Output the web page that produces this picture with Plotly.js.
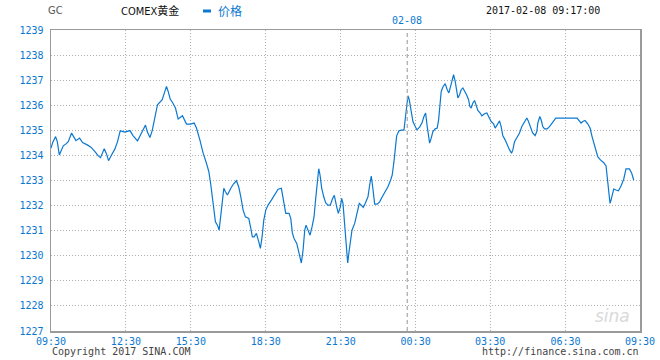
<!DOCTYPE html>
<html>
<head>
<meta charset="utf-8">
<script src="https://cdn.plot.ly/plotly-3.0.1.min.js"></script>
<style>html,body{margin:0;padding:0;background:#fff;}#chart{width:660px;height:360px;}</style>
</head>
<body>
<div id="chart"></div>
<script>
// minute slot index along the session (chart units)
const slot = [
0,2,4.6,6.3,8.3,9.6,12.3,15,17.3,20.6,22.6,25,28.6,31.6,36.3,40,44,47.3,49.6,53.3,55.6,57.6,60.6,64,66.6,69.3,74,79,82.3,86.6,90.6,94.6,96.3,99,101.3,104,106.6,111.3,113.3,115.6,117.3,119.3,121.6,
124.6,127.3,131.6,135.6,139.6,143.3,145.6,149,152.3,155.6,158,160,162.3,164.6,166.6,168.3,170,171.3,173,174.6,176.6,180,182.6,185.6,188,190,192.3,194.6,198,200,201.6,203.3,205.6,208,209.6,211.3,213,215,217.3,220.6,224,227.3,230.6,233,235,238.3,240,241.6,
243.3,246,248,249.6,250.6,252.3,254,255.3,256.6,259.3,261.3,263.3,265,266.6,268,269.3,271,273,275,277.3,279.6,281.6,283.6,286,287.6,289.6,291,292.3,293.3,295,296.3,297,298.3,300,301.3,304,306.6,308.6,310.6,312.6,314.6,317.3,319,320.6,322,324,326.6,329,331.6,334.6,337.3,340,341.6,343.3,344.6,346,348.3,350.6,353.3,355,356.3,357.3,358.6,360,361.6,
362.3,364.6,366.3,369,371.3,373.3,375,376.6,378,379,380.6,382.3,384.6,386.6,388,389.3,390.6,392.3,394.6,396.6,398.3,400,401.6,403,404.6,406,407.3,409,410.6,412.3,414,416,418,419.3,420.6,422.3,424,425.6,427.3,429.6,431.3,434,436.3,438.3,440.6,443,444.6,446.6,449,450.6,452.3,454.6,456.6,459,461,462.3,464,466.6,469,471.3,474,476.3,478,480,482,
484.6,486.3,487.3,489.3,490.6,492.3,494,496.6,499,502.3,505.3,526.6,529,530.6,532.3,534.6,537.3,539.6,541.6,544,545.6,547.3,550,553.3,555.6,556.6,558,559.6,560.6,561.6,563.3,565.6,568,570.6,573.3,575.6,579,581.3,583.3
];
const price = [
1234.29,1234.55,1234.75,1234.55,1234.02,1234.15,1234.38,1234.46,1234.55,1234.89,1234.75,1234.59,1234.69,1234.51,1234.42,1234.33,1234.15,1233.98,1233.91,1234.27,1234.06,1233.79,1234.02,1234.26,1234.55,1234.98,1234.93,1234.99,1234.78,1234.58,1234.89,1235.21,1234.95,1234.71,1234.99,1235.55,1236.02,1236.22,1236.46,1236.75,1236.55,1236.25,1236.11,
1235.89,1235.45,1235.58,1235.25,1235.25,1235.29,1235.09,1234.62,1234.09,1233.69,1233.35,1232.82,1231.95,1231.35,1231.22,1231.02,1231.62,1232.22,1232.69,1232.55,1232.42,1232.69,1232.86,1232.99,1232.73,1232.35,1231.82,1231.55,1231.49,1231.09,1230.75,1230.75,1230.89,1230.55,1230.29,1230.75,1231.42,1231.82,1232.02,1232.22,1232.42,1232.65,1232.69,1232.09,1231.69,1231.69,1231.49,1230.91,
1230.69,1230.49,1230.15,1229.85,1229.71,1230.22,1231.02,1231.22,1231.09,1230.82,1231.15,1231.55,1232.29,1232.82,1233.47,1233.22,1232.69,1232.35,1232.11,1232.02,1232.02,1232.25,1232.41,1231.95,1231.69,1231.95,1232.29,1232.09,1231.55,1230.49,1229.95,1229.71,1230.15,1230.55,1231.02,1231.29,1231.69,1232.09,1232.02,1231.93,1232.09,1232.35,1232.82,1233.18,1232.75,1232.06,1232.06,1232.15,1232.35,1232.55,1232.75,1233.02,1233.22,1233.75,1234.22,1234.78,1234.98,1235.01,1235.01,1235.55,1235.89,1236.38,1236.22,1235.89,1235.45,
1235.35,1235.15,1235.02,1235.13,1235.29,1235.55,1235.69,1235.15,1234.82,1234.49,1234.69,1234.95,1235.06,1235.09,1235.42,1236.02,1236.55,1236.73,1236.86,1236.62,1236.49,1236.75,1236.99,1237.22,1236.95,1236.62,1236.29,1236.42,1236.62,1236.69,1236.58,1236.42,1236.22,1235.95,1235.89,1236.09,1236.19,1236.02,1235.79,1235.69,1235.58,1235.66,1235.69,1235.53,1235.35,1235.26,1235.09,1235.22,1235.38,1235.15,1234.78,1234.62,1234.42,1234.22,1234.09,1234.22,1234.55,1234.75,1234.89,1235.15,1235.35,1235.49,1235.35,1235.09,1234.91,
1234.79,1234.95,1235.29,1235.55,1235.42,1235.15,1235.06,1235.06,1235.15,1235.33,1235.49,1235.49,1235.35,1235.29,1235.35,1235.39,1235.26,1235.09,1234.75,1234.42,1234.15,1233.95,1233.82,1233.71,1233.58,1233.22,1232.62,1232.09,1232.22,1232.35,1232.66,1232.62,1232.59,1232.78,1233.05,1233.46,1233.46,1233.29,1233.02
];
const xTickSlots = [0,75,140,215,290,365,439.6,515,589.6];
const xTickLabels = ['09:30','12:30','15:30','18:30','21:30','00:30','03:30','06:30','09:30'];
const yTicks = [1227,1228,1229,1230,1231,1232,1233,1234,1235,1236,1237,1238,1239];
const dayBreakSlot = 356.6;
const dayBreakLabel = '02-08';
const symbol = 'GC';
const instrument = 'COMEX黄金';
const seriesName = '价格';
const stamp = '2017-02-08 09:17:00';

const blue = '#0b78d0';
const mono = 'DejaVu Sans Mono, Liberation Mono, monospace';

const trace = {
  x: slot, y: price, type: 'scatter', mode: 'lines', name: seriesName,
  line: {color: blue, width: 1.2}, hoverinfo: 'skip', showlegend: false
};

const X = px => (px - 51) / 589;
const Y = py => (331 - py) / 301;

const layout = {
  width: 660, height: 360,
  margin: {l: 51, r: 20, t: 30, b: 29, pad: 0},
  paper_bgcolor: '#fff', plot_bgcolor: '#fff',
  showlegend: false,
  xaxis: {
    range: [0, 589.6], tickmode: 'array', tickvals: xTickSlots, ticktext: xTickLabels,
    showgrid: true, gridcolor: '#b0b0b0', griddash: '1px,2px', gridwidth: 1,
    showline: true, linecolor: '#9a9a9a', linewidth: 1.5, mirror: true,
    zeroline: false, ticks: '', tickfont: {family: mono, size: 10, color: blue},
    fixedrange: true
  },
  yaxis: {
    range: [1227, 1239], tickmode: 'array', tickvals: yTicks,
    showgrid: true, gridcolor: '#b0b0b0', griddash: '1px,2px', gridwidth: 1,
    showline: true, linecolor: '#9a9a9a', linewidth: 1.5, mirror: true,
    zeroline: false, ticks: 'outside', ticklen: 4, tickcolor: 'rgba(0,0,0,0)',
    tickfont: {family: mono, size: 10, color: blue},
    fixedrange: true
  },
  shapes: [
    {type: 'line', xref: 'x', yref: 'paper', x0: dayBreakSlot, x1: dayBreakSlot, y0: 0, y1: 1,
     line: {color: '#a8a8a8', width: 1.2, dash: '4px,3px'}},
    {type: 'line', xref: 'paper', yref: 'paper', x0: X(203), x1: X(211), y0: Y(11), y1: Y(11),
     line: {color: blue, width: 3}}
  ],
  annotations: [
    {text: symbol, xref: 'paper', yref: 'paper', x: X(46), y: Y(11), xanchor: 'left', yanchor: 'middle',
     showarrow: false, font: {family: 'Liberation Sans Narrow, DejaVu Sans Condensed, sans-serif', size: 11, color: '#555'}},
    {text: instrument, xref: 'paper', yref: 'paper', x: X(119), y: Y(11), xanchor: 'left', yanchor: 'middle',
     showarrow: false, font: {family: 'DejaVu Sans Condensed, Noto Sans CJK SC, sans-serif', size: 11, color: '#111'}},
    {text: seriesName, xref: 'paper', yref: 'paper', x: X(216), y: Y(11), xanchor: 'left', yanchor: 'middle',
     showarrow: false, font: {family: 'Noto Sans CJK SC, sans-serif', size: 12, color: blue}},
    {text: stamp, xref: 'paper', yref: 'paper', x: X(602), y: Y(11), xanchor: 'right', yanchor: 'middle',
     showarrow: false, font: {family: mono, size: 10, color: '#111'}},
    {text: dayBreakLabel, xref: 'x', yref: 'paper', x: dayBreakSlot, y: Y(21), xanchor: 'center', yanchor: 'middle',
     showarrow: false, font: {family: mono, size: 10, color: blue}},
    {text: 'Copyright 2017 SINA.COM', xref: 'paper', yref: 'paper', x: X(50), y: Y(352), xanchor: 'left', yanchor: 'middle',
     showarrow: false, font: {family: mono, size: 10, color: '#444'}},
    {text: 'http://finance.sina.com.cn', xref: 'paper', yref: 'paper', x: X(641), y: Y(352), xanchor: 'right', yanchor: 'middle',
     showarrow: false, font: {family: mono, size: 10, color: '#444'}},
    {text: '<i>sina</i>', xref: 'paper', yref: 'paper', x: X(612), y: Y(316), xanchor: 'center', yanchor: 'middle',
     showarrow: false, font: {family: 'DejaVu Sans, sans-serif', size: 17, color: '#d9d9d9'}}
  ]
};

Plotly.newPlot('chart', [trace], layout, {staticPlot: true, displayModeBar: false});
</script>
</body>
</html>
